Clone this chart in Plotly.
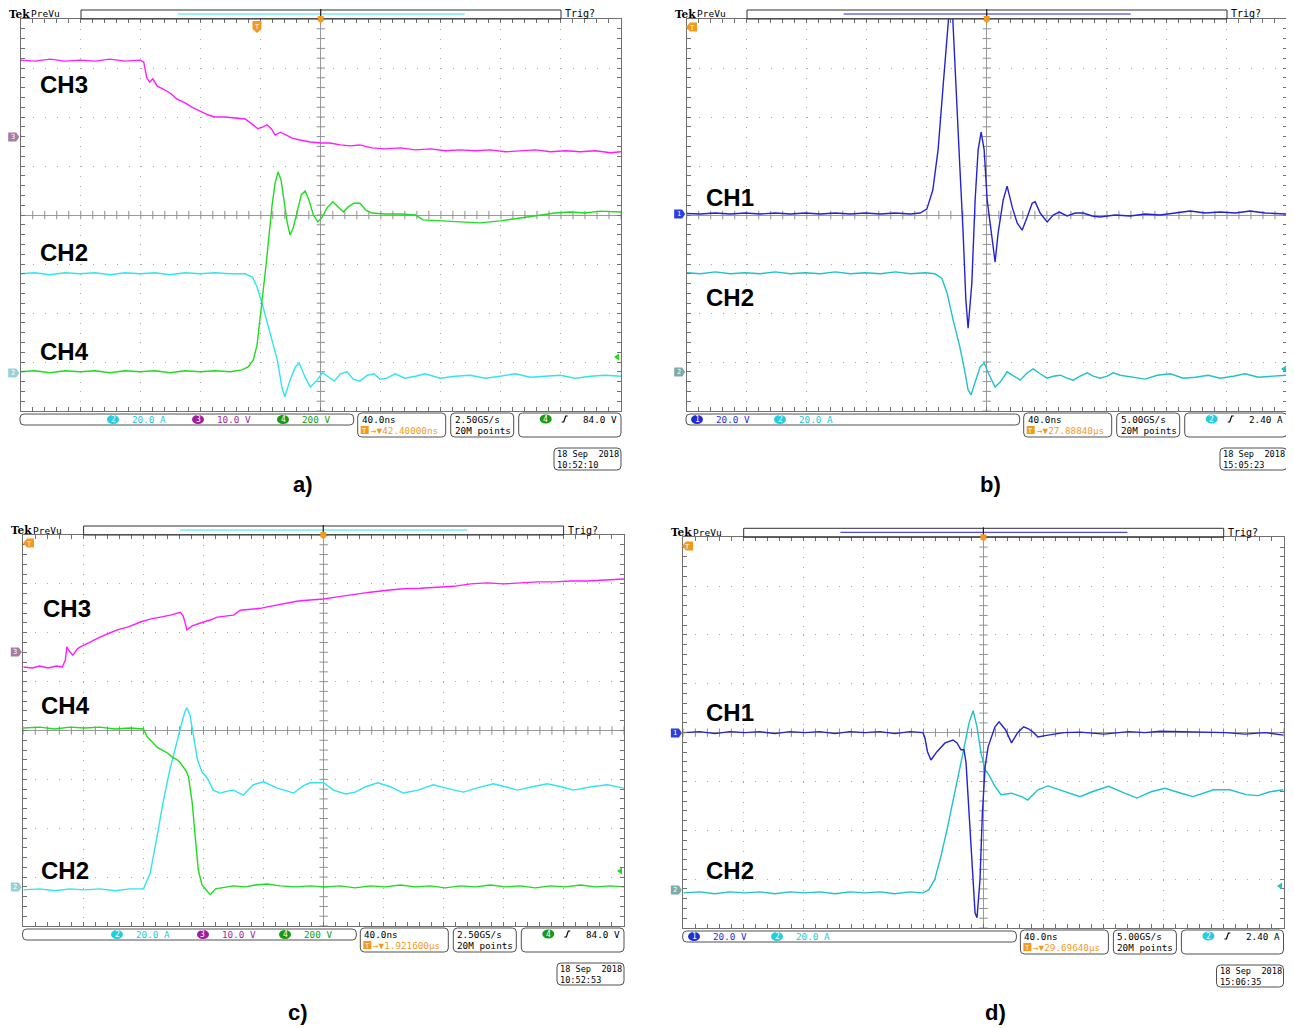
import plotly.graph_objects as go
import numpy as np

# page body has an 8px margin, so the figure is drawn 8px in from the window corner
OFF = 8
W, H = 1294 - OFF, 1028 - OFF

# ---------------- DATA (time in ns from trigger, value in screen divisions) ----------------
# Panel a
a_ch3_t = [-200,-190.5,-180.5,-170.5,-160.5,-150.5,-140.5,-130.5,-120.5,-118,-116,-114,-112,-109,-105,-100.5,-96,-90.5,-86,-80.5,-75,-70.5,-64,-57,-50.5,-46,-42,-38.5,-36,-33,-30.5,-27,-24,-19,-14,-7,0,6,13,19.5,26,34,43,53,63,73,83,93,103,113,123,133,143,153,163,173,183,193,200]
a_ch3_v = [3.16,3.14,3.18,3.14,3.16,3.14,3.18,3.14,3.16,3.12,2.80,2.71,2.78,2.63,2.57,2.49,2.37,2.29,2.20,2.12,2.04,2.00,2.00,1.98,1.96,1.86,1.76,1.80,1.84,1.76,1.63,1.69,1.65,1.57,1.53,1.49,1.47,1.47,1.43,1.41,1.43,1.37,1.35,1.37,1.33,1.35,1.31,1.33,1.31,1.33,1.29,1.31,1.33,1.29,1.31,1.29,1.31,1.27,1.29]
a_ch4_t = [-200,-190.5,-180.5,-170.5,-160.5,-150.5,-140.5,-130.5,-120.5,-110.5,-100.5,-90.5,-80.5,-70.5,-60.5,-52.5,-48.5,-45,-42.5,-40.5,-38.5,-36.5,-34.5,-32.5,-30.5,-28.5,-26.5,-24.5,-22.5,-20.5,-18.5,-15.5,-13,-10.5,-8,-5,-2,1,4,8,11.5,15,18,22,26,30,34,43,53,63,68,79.5,93,106,119.5,133,144,156,166,176,186,200]
a_ch4_v = [-3.20,-3.18,-3.22,-3.18,-3.20,-3.18,-3.22,-3.18,-3.20,-3.18,-3.22,-3.18,-3.20,-3.18,-3.20,-3.16,-3.10,-2.96,-2.65,-2.14,-1.63,-1.02,-0.41,0.20,0.65,0.88,0.71,0.31,-0.14,-0.41,-0.27,0.10,0.41,0.49,0.31,0.00,-0.14,-0.04,0.14,0.27,0.16,0.06,0.16,0.24,0.24,0.10,0.04,0.02,0.02,0.00,-0.10,-0.12,-0.14,-0.16,-0.12,-0.06,-0.02,0.04,0.06,0.04,0.08,0.06]
a_ch2_t = [-200,-190.5,-180.5,-170.5,-160.5,-150.5,-140.5,-130.5,-120.5,-110.5,-100.5,-90.5,-80.5,-70.5,-60.5,-50.5,-45.5,-42.5,-38.5,-34,-29,-26,-24,-20.5,-17,-14.5,-10.5,-7,-2.5,1,5,9,13,17.5,21.5,26,31,35.5,39.5,44,49.5,56,63,69.5,79.5,89.5,99.5,109.5,119.5,129.5,139.5,149.5,159.5,169.5,179.5,189.5,200]
a_ch2_v = [-1.20,-1.18,-1.22,-1.18,-1.20,-1.18,-1.22,-1.18,-1.20,-1.18,-1.22,-1.18,-1.20,-1.18,-1.20,-1.20,-1.27,-1.47,-1.88,-2.41,-2.96,-3.51,-3.71,-3.37,-3.10,-3.02,-3.31,-3.51,-3.37,-3.22,-3.31,-3.39,-3.24,-3.20,-3.35,-3.39,-3.27,-3.24,-3.35,-3.33,-3.24,-3.33,-3.29,-3.24,-3.33,-3.29,-3.27,-3.33,-3.29,-3.24,-3.31,-3.29,-3.27,-3.33,-3.29,-3.27,-3.29]

# Panel b
b_ch1_t = [-200,-191,-181,-171,-161,-151,-141,-131,-121,-111,-101,-91,-81,-71,-61,-51,-44.5,-40,-36,-32.5,-29,-27,-25,-23,-21,-18,-15.8,-14,-12.5,-10,-7.8,-5.8,-3.8,-1.8,0.2,2.9,5.5,7.5,10.9,13.5,16.9,20.2,23.5,26.9,30.2,32.2,35.5,40.2,44.2,48.2,53.5,58.9,64.2,70.2,75.5,85.5,95.5,105.5,115.5,125.5,135.5,145.5,155.5,165.5,175.5,185.5,200]
b_ch1_v = [0.03,0.02,0.04,0.02,0.04,0.02,0.04,0.02,0.04,0.02,0.04,0.02,0.04,0.02,0.04,0.02,0.04,0.12,0.51,1.33,2.69,3.57,4.20,4.20,3.02,0.98,-0.37,-1.73,-2.31,-1.39,0.31,1.33,1.69,1.33,0.31,-0.37,-0.96,-0.37,0.31,0.59,0.16,-0.16,-0.31,-0.04,0.24,0.27,0.04,-0.14,0.00,0.06,-0.02,0.04,0.04,-0.02,-0.04,0.00,-0.02,0.02,0.00,0.04,0.08,0.04,0.06,0.04,0.08,0.04,0.02]
b_ch2_t = [-200,-191,-181,-171,-161,-151,-141,-131,-121,-111,-101,-91,-81,-71,-61,-51,-41,-34.5,-30,-26.5,-22.5,-18,-14.5,-12.5,-10.5,-7.8,-4.5,-1.8,0.9,5.5,8.9,13.5,18.9,22.2,26.9,30.9,35.5,40.2,44.2,48.9,53.5,57.5,62.2,66.9,70.9,75.5,80.2,84.2,88.9,97.5,105.5,113.5,122.2,130.9,138.9,147.5,155.5,164.2,172.2,180.9,188.9,200]
b_ch2_v = [-1.18,-1.20,-1.16,-1.20,-1.18,-1.20,-1.16,-1.20,-1.18,-1.20,-1.16,-1.20,-1.18,-1.20,-1.16,-1.20,-1.18,-1.20,-1.29,-1.59,-2.14,-2.69,-3.22,-3.57,-3.67,-3.43,-3.10,-3.02,-3.22,-3.51,-3.41,-3.20,-3.31,-3.37,-3.22,-3.14,-3.24,-3.33,-3.29,-3.27,-3.33,-3.37,-3.29,-3.22,-3.29,-3.33,-3.29,-3.22,-3.27,-3.31,-3.35,-3.27,-3.24,-3.33,-3.31,-3.27,-3.33,-3.29,-3.24,-3.31,-3.29,-3.27]

# Panel c
c_ch3_t = [-200,-194,-189,-183.5,-178,-174,-172,-171,-169,-167,-164,-162,-155.5,-149,-142,-137.5,-130,-122,-115.5,-109,-102,-95.5,-93.5,-91,-87.5,-82,-75.5,-71,-65.5,-60,-55.5,-49,-42,-37.5,-31,-24,-17,-9,0,8,20,31,42.5,53,64.5,75.5,86.5,98,109,120,131,142.5,153.5,164.5,175.5,186.5,200]
c_ch3_v = [1.30,1.28,1.32,1.28,1.32,1.30,1.44,1.71,1.61,1.54,1.67,1.71,1.81,1.91,2.00,2.06,2.12,2.22,2.28,2.32,2.36,2.42,2.34,2.06,2.14,2.20,2.26,2.32,2.34,2.36,2.46,2.48,2.50,2.53,2.57,2.61,2.65,2.67,2.69,2.73,2.79,2.83,2.87,2.90,2.91,2.93,2.95,3.00,3.02,3.00,3.02,3.04,3.04,3.06,3.06,3.08,3.10]
c_ch4_t = [-200,-189,-179,-169,-159,-149,-139,-129,-120,-117.5,-114,-111,-107.5,-104,-101,-97.5,-95.5,-93.5,-91.5,-90,-87.5,-85.5,-83.5,-81,-78,-75.5,-72,-69,-64,-60,-52,-45.5,-37.5,-29,-19,-9,1,11,21,31,41,51,61,71,81,91,101,111,121,131,141,151,161,171,181,191,200]
c_ch4_v = [0.05,0.07,0.03,0.07,0.05,0.07,0.03,0.05,0.03,-0.13,-0.24,-0.34,-0.40,-0.46,-0.54,-0.60,-0.66,-0.75,-0.83,-0.95,-1.48,-2.18,-2.85,-3.16,-3.28,-3.36,-3.24,-3.22,-3.20,-3.18,-3.20,-3.16,-3.14,-3.18,-3.20,-3.18,-3.20,-3.18,-3.22,-3.18,-3.20,-3.16,-3.20,-3.18,-3.22,-3.18,-3.20,-3.16,-3.20,-3.18,-3.22,-3.18,-3.20,-3.16,-3.20,-3.18,-3.20]
c_ch2_t = [-200,-189,-179,-169,-159,-149,-139,-129,-120,-115.5,-111,-107,-102.5,-97.5,-94,-92,-91,-89,-87,-84,-81,-77.5,-73.5,-69,-64,-60,-53.5,-47,-40,-35.5,-31,-24,-20,-13.5,-9,0,6.5,14.5,21,28,36,44.5,53,63,73,83,93,103,113,121,129,139,149,158,166.5,178,189,200]
c_ch2_v = [-3.26,-3.24,-3.28,-3.24,-3.26,-3.24,-3.28,-3.24,-3.24,-2.92,-2.18,-1.48,-0.81,-0.19,0.21,0.42,0.46,0.32,-0.09,-0.60,-0.85,-0.97,-1.22,-1.28,-1.24,-1.22,-1.32,-1.11,-1.05,-1.11,-1.18,-1.24,-1.28,-1.13,-1.07,-1.07,-1.22,-1.30,-1.26,-1.15,-1.07,-1.15,-1.28,-1.22,-1.11,-1.19,-1.26,-1.17,-1.09,-1.15,-1.22,-1.15,-1.09,-1.15,-1.22,-1.15,-1.11,-1.18]

# Panel d
d_ch1_t = [-200,-189,-179,-169,-159,-149,-139,-129,-119,-109,-99,-89,-79,-69,-59,-49,-40.3,-39,-37.3,-35,-31,-25.6,-20.3,-17.6,-15,-13,-11.6,-9.6,-7.6,-5.6,-4.3,-2.3,-0.7,1.1,3.1,5.1,7.7,10.4,14.7,18.7,22.8,26.8,30,33.5,36.3,43,53.7,64.4,80.4,96.9,107.7,117.7,134.4,144.4,161.5,174.4,187.7,200]
d_ch1_v = [0.00,0.02,-0.02,0.02,0.00,0.02,-0.02,0.02,0.00,0.02,-0.02,0.02,0.00,0.02,-0.02,0.02,0.00,-0.11,-0.39,-0.56,-0.39,-0.21,-0.15,-0.21,-0.35,-0.35,-0.62,-1.64,-2.74,-3.69,-3.79,-3.01,-1.64,-0.70,-0.29,-0.09,0.12,0.22,0.06,-0.21,0.00,0.12,0.08,0.00,-0.09,-0.05,0.00,0.01,-0.03,0.02,0.00,0.03,0.02,0.00,0.00,-0.03,0.00,-0.05]
d_ch2_t = [-200,-189,-179,-169,-159,-149,-139,-129,-119,-109,-99,-89,-79,-69,-59,-49,-40.3,-36.5,-32.5,-28.4,-24.3,-19,-13.6,-9.6,-6.9,-4.3,-1.6,1.1,3.7,7.7,11.7,18.7,25.5,29.5,36.3,43,51,64.4,72.4,83.4,94.1,102.3,111.7,121,131.7,139.7,153.4,164.2,175,183,191,200]
d_ch2_v = [-3.28,-3.26,-3.30,-3.26,-3.28,-3.26,-3.30,-3.26,-3.28,-3.26,-3.30,-3.26,-3.28,-3.26,-3.30,-3.26,-3.28,-3.22,-3.01,-2.54,-1.99,-1.23,-0.41,0.20,0.45,0.12,-0.42,-0.76,-0.87,-1.10,-1.27,-1.24,-1.31,-1.38,-1.17,-1.09,-1.17,-1.31,-1.21,-1.10,-1.24,-1.34,-1.21,-1.14,-1.24,-1.31,-1.17,-1.17,-1.27,-1.29,-1.21,-1.17]

# status-bar texts
a_texts = dict(scale=[("2", "20.0 A"), ("3", "10.0 V"), ("4", "200 V")], hdiv="40.0ns", pos="42.40000ns",
               rate="2.50GS/s", pts="20M points", trig=("4", "84.0 V"), date="18 Sep\u00a0 2018", time="10:52:10")
b_texts = dict(scale=[("1", "20.0 V"), ("2", "20.0 A")], hdiv="40.0ns", pos="27.88840µs",
               rate="5.00GS/s", pts="20M points", trig=("2", "2.40 A"), date="18 Sep\u00a0 2018", time="15:05:23")
c_texts = dict(scale=[("2", "20.0 A"), ("3", "10.0 V"), ("4", "200 V")], hdiv="40.0ns", pos="1.921600µs",
               rate="2.50GS/s", pts="20M points", trig=("4", "84.0 V"), date="18 Sep\u00a0 2018", time="10:52:53")
d_texts = dict(scale=[("1", "20.0 V"), ("2", "20.0 A")], hdiv="40.0ns", pos="29.69640µs",
               rate="5.00GS/s", pts="20M points", trig=("2", "2.40 A"), date="18 Sep\u00a0 2018", time="15:06:35")

# ---------------- STYLE ----------------
MONO = "DejaVu Sans Mono"
SANS = "Liberation Sans, Arial"
BLUE = "#2323cf"
CYAN_LT = "#30e4ee"
CYAN_DK = "#1fc2ca"
MAG = "#ff1cff"
GREEN = "#1fdc1f"
CH_TXT = {"1": "#2a2ae0", "2": "#22c8d6", "3": "#a51fa5", "4": "#139e13"}
CH_CHIP = {"1": "#1f2fd8", "2": "#22cfe0", "3": "#a01ca0", "4": "#149a14"}
ORANGE = "#f39a1e"
GRID = "#a8a8a8"
BORDER = "#707070"
FS = 9.3

def X(px):
    return (px - OFF) / W

def Y(py):
    return 1 - (py - OFF) / H

shapes, annos = [], []

def text(x, y, s, size=FS, color="#000", anchor="left", family=MONO, vanchor="middle"):
    annos.append(dict(x=X(x), y=Y(y), xref="paper", yref="paper", text=s, showarrow=False,
                      xanchor=anchor, yanchor=vanchor, borderpad=0,
                      font=dict(size=size, color=color, family=family)))

def path_of(pts, close=True):
    p = "M " + " L ".join(f"{X(a):.5f},{Y(b):.5f}" for a, b in pts)
    return p + (" Z" if close else "")

def poly(pts, fill, line=None, width=0):
    shapes.append(dict(type="path", path=path_of(pts), xref="paper", yref="paper",
                       fillcolor=fill, line=dict(color=line or fill, width=width), layer="above"))

def line(x0, y0, x1, y1, color, width=1):
    shapes.append(dict(type="line", x0=X(x0), y0=Y(y0), x1=X(x1), y1=Y(y1), xref="paper", yref="paper",
                       line=dict(color=color, width=width), layer="above"))

def rrect(x0, y0, x1, y1, r=3, color="#505050", width=1, fill="rgba(0,0,0,0)"):
    p = (f"M {X(x0+r)},{Y(y0)} L {X(x1-r)},{Y(y0)} Q {X(x1)},{Y(y0)} {X(x1)},{Y(y0+r)} "
         f"L {X(x1)},{Y(y1-r)} Q {X(x1)},{Y(y1)} {X(x1-r)},{Y(y1)} L {X(x0+r)},{Y(y1)} "
         f"Q {X(x0)},{Y(y1)} {X(x0)},{Y(y1-r)} L {X(x0)},{Y(y0+r)} Q {X(x0)},{Y(y0)} {X(x0+r)},{Y(y0)} Z")
    shapes.append(dict(type="path", path=p, xref="paper", yref="paper", fillcolor=fill,
                       line=dict(color=color, width=width), layer="above"))

def chip(cx, cy, num):
    shapes.append(dict(type="circle", x0=X(cx-6), x1=X(cx+6), y0=Y(cy+4.5), y1=Y(cy-4.5),
                       xref="paper", yref="paper", fillcolor=CH_CHIP[num], line=dict(width=0), layer="above"))
    text(cx, cy, num, size=8, color="white", anchor="center")

def tmark(x, y, kind):
    if kind == "down":
        poly([(x-4.5, y-6), (x+4.5, y-6), (x+4.5, y+2), (x, y+6), (x-4.5, y+2)], ORANGE)
    else:
        poly([(x-2, y-4.5), (x+5, y-4.5), (x+5, y+4.5), (x-2, y+4.5), (x-6, y)], ORANGE)
    text(x, y-1 if kind == "down" else y, "T", size=7, color="white", anchor="center", family=SANS)

def panel(P, T_, rec_color, tpos, tkind, grounds, trig_arrow, chips_x, labels, plabel):
    L, T, R, B = P
    # header
    text(L - 13, T - 5, "<b>Tek</b>", size=10.5, family="DejaVu Serif")
    text(L + 9, T - 5, "PreVu", size=9.5)
    rrect(L + 60.3, T - 9, L + 540.3, T, r=0, color="#303030", width=1)
    line(L + 157, T - 5, L + 444, T - 5, rec_color, 1)
    text(R - 57, T - 5, "Trig?", size=10)
    line(L + 300, T - 10, L + 300, T, "#202020", 1.2)
    poly([(L + 297, T - 3), (L + 303, T - 3), (L + 303, T + 2), (L + 300, T + 4), (L + 297, T + 2)], ORANGE)
    tmark(tpos[0], tpos[1], tkind)
    # ground markers on the left
    for num, col, gy in grounds:
        x0 = L - 12.5
        poly([(x0, gy - 4.5), (x0 + 8, gy - 4.5), (x0 + 11, gy), (x0 + 8, gy + 4.5), (x0, gy + 4.5)], col)
        text(x0 + 4.5, gy, num, size=7, color="white", anchor="center")
    ax, ay, acol = trig_arrow
    poly([(ax - 3, ay), (ax + 2, ay - 3.5), (ax + 2, ay + 3.5)], acol)
    # channel labels
    for s, lx, ly in labels:
        text(lx, ly, "<b>" + s + "</b>", size=24, family=SANS)
    # status row
    rrect(L - 0.7, B + 3, L + 333, B + 14, r=4)
    for (num, val), cx in zip(T_["scale"], chips_x):
        chip(cx, B + 8.5, num)
        text(cx + 18, B + 8.5, val, color=CH_TXT[num])
    rrect(L + 337, B + 2, L + 425, B + 26, r=4)
    text(L + 340, B + 8, T_["hdiv"])
    poly([(L + 340, B + 15), (L + 348, B + 15), (L + 348, B + 23), (L + 340, B + 23)], ORANGE)
    text(L + 344, B + 19, "T", size=7, color="white", anchor="center", family=SANS)
    text(L + 349, B + 19, "\u2192\u25bc" + T_["pos"], color=ORANGE)
    rrect(L + 430, B + 2, L + 493, B + 26, r=4)
    text(L + 433, B + 8, T_["rate"])
    text(L + 433, B + 19, T_["pts"])
    rrect(L + 498, B + 2, R, B + 26, r=4)
    tn, tv = T_["trig"]
    chip(L + 525, B + 8, tn)
    ex, ey = L + 544, B + 8
    shapes.append(dict(type="path", path=path_of([(ex - 3, ey + 3), (ex - 1, ey + 3), (ex + 1, ey - 3), (ex + 3, ey - 3)], close=False),
                       xref="paper", yref="paper", line=dict(color="#000", width=1.2), layer="above"))
    text(R - 3, B + 8, tv, anchor="right")
    rrect(R - 67, B + 37, R, B + 59, r=4)
    text(R - 65, B + 43, T_["date"], size=8.6)
    text(R - 65, B + 54, T_["time"], size=8.6)
    text(plabel[0], plabel[1], "<b>" + plabel[2] + "</b>", size=22, family=SANS, anchor="center")

PA = (20.7, 19, 621, 411)
PB = (686.7, 19, 1287, 411)
PC = (23.3, 535, 624, 926)
PD = (683.4, 537.3, 1283.5, 928)

panel(PA, a_texts, CYAN_LT, (257, 27), "down", [("3", "#a47ca4", 137), ("2", "#93d3d8", 373)], (617, 357, GREEN),
      [113, 198, 283], [("CH3", 39, 85), ("CH2", 39, 252), ("CH4", 39, 351)], (303, 484, "a)"))
panel(PB, b_texts, BLUE, (692, 27), "left", [("1", "#2a3fe0", 214), ("2", "#7eaaaa", 372)], (1284, 369, CYAN_DK),
      [697, 780], [("CH1", 705, 197), ("CH2", 705, 297)], (990, 484, "b)"))
panel(PC, c_texts, CYAN_LT, (29, 543), "left", [("3", "#a47ca4", 652), ("2", "#93d3d8", 887)], (620, 871, GREEN),
      [117, 203, 285], [("CH3", 42, 608), ("CH4", 40, 705), ("CH2", 40, 870)], (298, 1012, "c)"))
panel(PD, d_texts, BLUE, (688, 546), "left", [("1", "#2a3fe0", 733), ("2", "#7eaaaa", 890)], (1280, 886, CYAN_DK),
      [694, 777], [("CH1", 705, 712), ("CH2", 705, 870)], (995, 1012, "d)"))

# ---------------- FIGURE ----------------
fig = go.Figure()

def add(t, v, color, k):
    fig.add_trace(go.Scatter(x=t, y=v, mode="lines", line=dict(color=color, width=1.4),
                             xaxis="x" + ("" if k == 1 else str(k)), yaxis="y" + ("" if k == 1 else str(k)),
                             showlegend=False, hoverinfo="skip"))

def crosshair(k):
    xs = np.arange(-200, 200.1, 8)
    ys = np.arange(-4, 4.01, 0.2)
    xa = "x" + ("" if k == 1 else str(k))
    ya = "y" + ("" if k == 1 else str(k))
    mk = dict(size=6, color="#909090", line=dict(width=1, color="#909090"))
    fig.add_trace(go.Scatter(x=xs, y=np.zeros_like(xs), mode="markers", marker=dict(symbol="line-ns", **mk),
                             xaxis=xa, yaxis=ya, showlegend=False, hoverinfo="skip"))
    fig.add_trace(go.Scatter(x=np.zeros_like(ys), y=ys, mode="markers", marker=dict(symbol="line-ew", **mk),
                             xaxis=xa, yaxis=ya, showlegend=False, hoverinfo="skip"))

for k in range(1, 5):
    crosshair(k)

add(a_ch3_t, a_ch3_v, MAG, 1)
add(a_ch2_t, a_ch2_v, CYAN_LT, 1)
add(a_ch4_t, a_ch4_v, GREEN, 1)
add(b_ch2_t, b_ch2_v, CYAN_DK, 2)
add(b_ch1_t, b_ch1_v, BLUE, 2)
add(c_ch3_t, c_ch3_v, MAG, 3)
add(c_ch2_t, c_ch2_v, CYAN_LT, 3)
add(c_ch4_t, c_ch4_v, GREEN, 3)
add(d_ch2_t, d_ch2_v, CYAN_DK, 4)
add(d_ch1_t, d_ch1_v, BLUE, 4)

layout = dict(width=W, height=H, margin=dict(l=0, r=0, t=0, b=0), paper_bgcolor="white",
              plot_bgcolor="white", shapes=shapes, annotations=annos, showlegend=False)

for k, P in enumerate([PA, PB, PC, PD], start=1):
    L, T, R, B = P
    sx = "xaxis" + ("" if k == 1 else str(k))
    sy = "yaxis" + ("" if k == 1 else str(k))
    layout[sx] = dict(domain=[X(L), X(R)], range=[-200, 200], anchor="y" + ("" if k == 1 else str(k)),
                      showgrid=True, gridcolor=GRID, gridwidth=1, griddash="1px,8.8px",
                      zeroline=True, zerolinecolor="#9a9a9a", zerolinewidth=1,
                      showline=True, linecolor=BORDER, linewidth=1, mirror="ticks",
                      ticks="inside", ticklen=4, tickcolor=BORDER, tick0=0, dtick=40,
                      minor=dict(dtick=8, ticks="inside", ticklen=4, tickcolor=BORDER, showgrid=False),
                      showticklabels=False, fixedrange=True)
    layout[sy] = dict(domain=[Y(B), Y(T)], range=[-4, 4], anchor="x" + ("" if k == 1 else str(k)),
                      showgrid=True, gridcolor=GRID, gridwidth=1, griddash="1px,11px",
                      zeroline=True, zerolinecolor="#9a9a9a", zerolinewidth=1,
                      showline=True, linecolor=BORDER, linewidth=1, mirror="ticks",
                      ticks="inside", ticklen=4, tickcolor=BORDER, tick0=0, dtick=1,
                      minor=dict(dtick=0.2, ticks="inside", ticklen=4, tickcolor=BORDER, showgrid=False),
                      showticklabels=False, fixedrange=True)

fig.update_layout(**layout)
fig.write_html("out.html")
